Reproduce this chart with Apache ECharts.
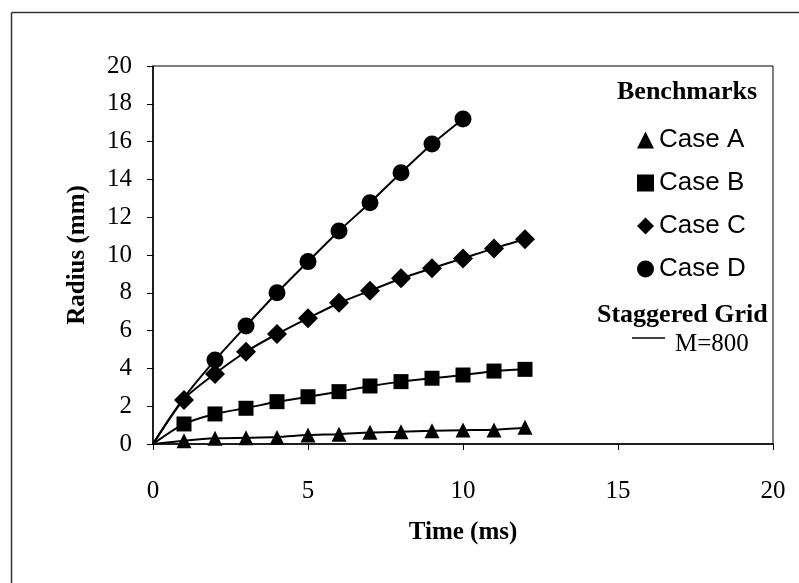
<!DOCTYPE html>
<html><head><meta charset="utf-8">
<script src="https://cdn.jsdelivr.net/npm/echarts@6/dist/echarts.min.js"></script>
<style>html,body{margin:0;padding:0;background:#fff}#c{width:799px;height:583px}</style>
</head><body><div id="c"></div>
<script>
// Benchmark markers
const times = [1,2,3,4,5,6,7,8,9,10,11,12];
const caseA = [0.17,0.3,0.33,0.35,0.48,0.51,0.62,0.65,0.7,0.74,0.74,0.88];
const caseB = [1.06,1.59,1.89,2.24,2.5,2.77,3.07,3.3,3.48,3.65,3.86,3.95];
const caseC = [2.33,3.7,4.88,5.82,6.65,7.48,8.11,8.77,9.3,9.82,10.35,10.83];
const timesD = [2,3,4,5,6,7,8,9,10];
const caseD = [4.44,6.24,8.0,9.65,11.27,12.77,14.35,15.87,17.2];
// Staggered grid M=800 curves
const lineTimes = [0,1,2,3,4,5,6,7,8,9,10,11,12];
const lineA = [0,0.17,0.3,0.33,0.37,0.47,0.52,0.61,0.65,0.7,0.73,0.76,0.86];
const lineB = [0,1.06,1.59,1.9,2.23,2.5,2.77,3.06,3.3,3.48,3.65,3.85,3.95];
const lineC = [0,2.38,3.72,4.88,5.82,6.65,7.46,8.11,8.76,9.3,9.82,10.35,10.83];
const lineTimesD = [0,1,2,3,4,5,6,7,8,9,10];
const lineD = [0,2.45,4.44,6.24,8.0,9.65,11.27,12.77,14.35,15.87,17.2];

const pairs = (xs, ys) => xs.map((x, i) => [x, ys[i]]);
const serif = 'Liberation Serif';
const sans = 'Liberation Sans';

const chart = echarts.init(document.getElementById('c'));
const lineSeries = (d, xs) => ({
  type: 'line', name: 'M=800', data: pairs(xs, d), symbol: 'none', smooth: 0.25,
  lineStyle: {color: '#000', width: 2}, itemStyle: {color: '#000'}, z: 2, silent: true
});
const scatter = (name, d, xs, sym, size) => ({
  type: 'scatter', name, data: pairs(xs, d), symbol: sym, symbolSize: size,
  itemStyle: {color: '#000', opacity: 1}, z: 3
});
chart.setOption({
  backgroundColor: '#fff',
  animation: false,
  grid: {left: 153, right: 26, top: 66, bottom: 139, show: true, borderColor: '#000', borderWidth: 1},
  xAxis: {
    type: 'value', min: 0, max: 20, interval: 5,
    name: 'Time (ms)', nameLocation: 'middle', nameGap: 76,
    nameTextStyle: {fontFamily: serif, fontSize: 25, fontWeight: 'bold', color: '#000'},
    axisLine: {show: true, lineStyle: {color: '#000', width: 1.5}},
    axisTick: {show: true, inside: false, length: 6, lineStyle: {color: '#000'}},
    axisLabel: {fontFamily: serif, fontSize: 25, color: '#000', margin: 35},
    splitLine: {show: false}
  },
  yAxis: {
    type: 'value', min: 0, max: 20, interval: 2,
    name: 'Radius (mm)', nameLocation: 'middle', nameGap: 63,
    nameTextStyle: {fontFamily: serif, fontSize: 25, fontWeight: 'bold', color: '#000'},
    axisLine: {show: true, lineStyle: {color: '#000', width: 1.5}},
    axisTick: {show: true, inside: false, length: 6, lineStyle: {color: '#000'}},
    axisLabel: {fontFamily: serif, fontSize: 25, color: '#000', margin: 21},
    splitLine: {show: false}
  },
  legend: [{
    orient: 'vertical', left: 632, top: 122, itemWidth: 17, itemHeight: 17, itemGap: 17,
    textStyle: {fontFamily: sans, fontSize: 26, color: '#000'},
    selectedMode: false,
    data: [{name: 'Case A', icon: 'triangle'}, {name: 'Case B', icon: 'rect'},
           {name: 'Case C', icon: 'diamond'}, {name: 'Case D', icon: 'circle'}]
  }],
  graphic: [
    {type: 'line', shape: {x1: 11.5, y1: 12.5, x2: 11.5, y2: 583}, style: {stroke: '#333', lineWidth: 1.5}},
    {type: 'line', shape: {x1: 11.5, y1: 12.5, x2: 799, y2: 12.5}, style: {stroke: '#333', lineWidth: 1.5}},
    {type: 'text', left: 617, top: 79, style: {text: 'Benchmarks', font: 'bold 26px "Liberation Serif"', fill: '#000'}},
    {type: 'text', left: 597, top: 302, style: {text: 'Staggered Grid', font: 'bold 26px "Liberation Serif"', fill: '#000'}},
    {type: 'line', shape: {x1: 632, y1: 338, x2: 665, y2: 338}, style: {stroke: '#000', lineWidth: 1.5}},
    {type: 'text', left: 675, top: 332, style: {text: 'M=800', font: '25px "Liberation Serif"', fill: '#000'}}
  ],
  series: [
    lineSeries(lineA, lineTimes), lineSeries(lineB, lineTimes),
    lineSeries(lineC, lineTimes), lineSeries(lineD, lineTimesD),
    scatter('Case A', caseA, times, 'triangle', 15),
    scatter('Case B', caseB, times, 'rect', 15),
    scatter('Case C', caseC, times, 'diamond', 20),
    scatter('Case D', caseD, timesD, 'circle', 17)
  ]
});
</script></body></html>
